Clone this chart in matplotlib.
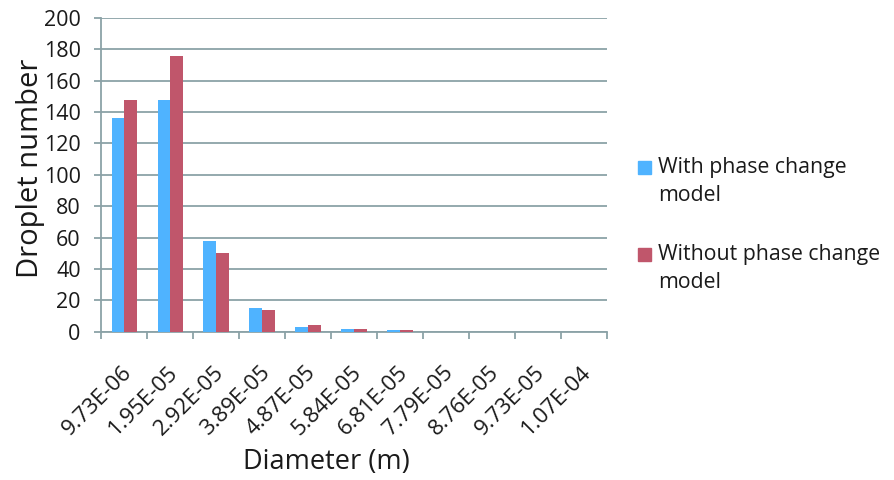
import numpy as np
import matplotlib
matplotlib.use("Agg")
import matplotlib.pyplot as plt
import matplotlib.transforms as mtransforms
from matplotlib.patches import Rectangle

diameters = ["9.73E-06", "1.95E-05", "2.92E-05", "3.89E-05", "4.87E-05", "5.84E-05",
             "6.81E-05", "7.79E-05", "8.76E-05", "9.73E-05", "1.07E-04"]
with_phase = [136, 148, 58, 15, 3, 2, 1, 0, 0, 0, 0]
without_phase = [148, 176, 50, 14, 4, 2, 1, 0, 0, 0, 0]
series_names = ["With phase change\nmodel", "Without phase change\nmodel"]

colors = {"with": "#4FB3FF", "without": "#C0566B", "grid": "#8BA2A7", "text": "#1a1a1a"}

plt.rcParams["font.family"] = ["Open Sans", "DejaVu Sans"]
plt.rcParams["text.color"] = colors["text"]
plt.rcParams["axes.labelcolor"] = colors["text"]
plt.rcParams["xtick.labelcolor"] = colors["text"]
plt.rcParams["ytick.labelcolor"] = colors["text"]

fig = plt.figure(figsize=(8.94, 4.8), dpi=100)
ax = fig.add_axes([0.1135, 0.309, 0.5654, 0.6535])

x = np.arange(len(diameters))
w = 0.28
ax.bar(x - w / 2, with_phase, w, color=colors["with"], zorder=3)
ax.bar(x + w / 2, without_phase, w, color=colors["without"], zorder=3)

ax.set_xlim(-0.5, len(diameters) - 0.5)
ax.set_ylim(0, 200)
ax.set_yticks(range(0, 201, 20))
ax.yaxis.grid(True, color=colors["grid"], lw=1.3, zorder=0)

# ticks between categories, labels under the categories
ax.set_xticks(x)
ax.set_xticklabels(diameters, rotation=45, ha="right", va="center",
                   rotation_mode="anchor", fontsize=16)
ax.set_xticks(np.arange(-0.5, len(diameters)), minor=True)
ax.tick_params(axis="x", which="major", length=0, pad=27)
ax.tick_params(axis="x", which="minor", length=5, color=colors["grid"], width=1.3)
ax.tick_params(axis="y", length=5, color=colors["grid"], width=1.3, labelsize=15.5, pad=10)
shift = mtransforms.ScaledTranslation(3 / 72, 0, fig.dpi_scale_trans)
for lbl in ax.get_xticklabels():
    lbl.set_transform(lbl.get_transform() + shift)

for s in ["top", "right"]:
    ax.spines[s].set_visible(False)
for s in ["left", "bottom"]:
    ax.spines[s].set_color(colors["grid"])
    ax.spines[s].set_linewidth(1.3)

ax.set_ylabel("Droplet number", fontsize=21, va="center")
ax.yaxis.set_label_coords(-0.141, 0.521)
ax.set_xlabel("Diameter (m)", fontsize=19.5, va="center")
ax.xaxis.set_label_coords(0.445, -0.414)

# legend: square aligned with the first line of each entry
legend_y = [167, 254]
for name, key, yp in zip(series_names, ["with", "without"], legend_y):
    yf = 1 - yp / 480
    fig.patches.append(Rectangle((638 / 894, yf - 6.5 / 480), 13 / 894, 13 / 480,
                                 transform=fig.transFigure, color=colors[key]))
    fig.text(658 / 894, yf + 10 / 480, name, fontsize=15.3, va="top", ha="left",
             linespacing=1.45)

fig.savefig("out.png", dpi=100)
